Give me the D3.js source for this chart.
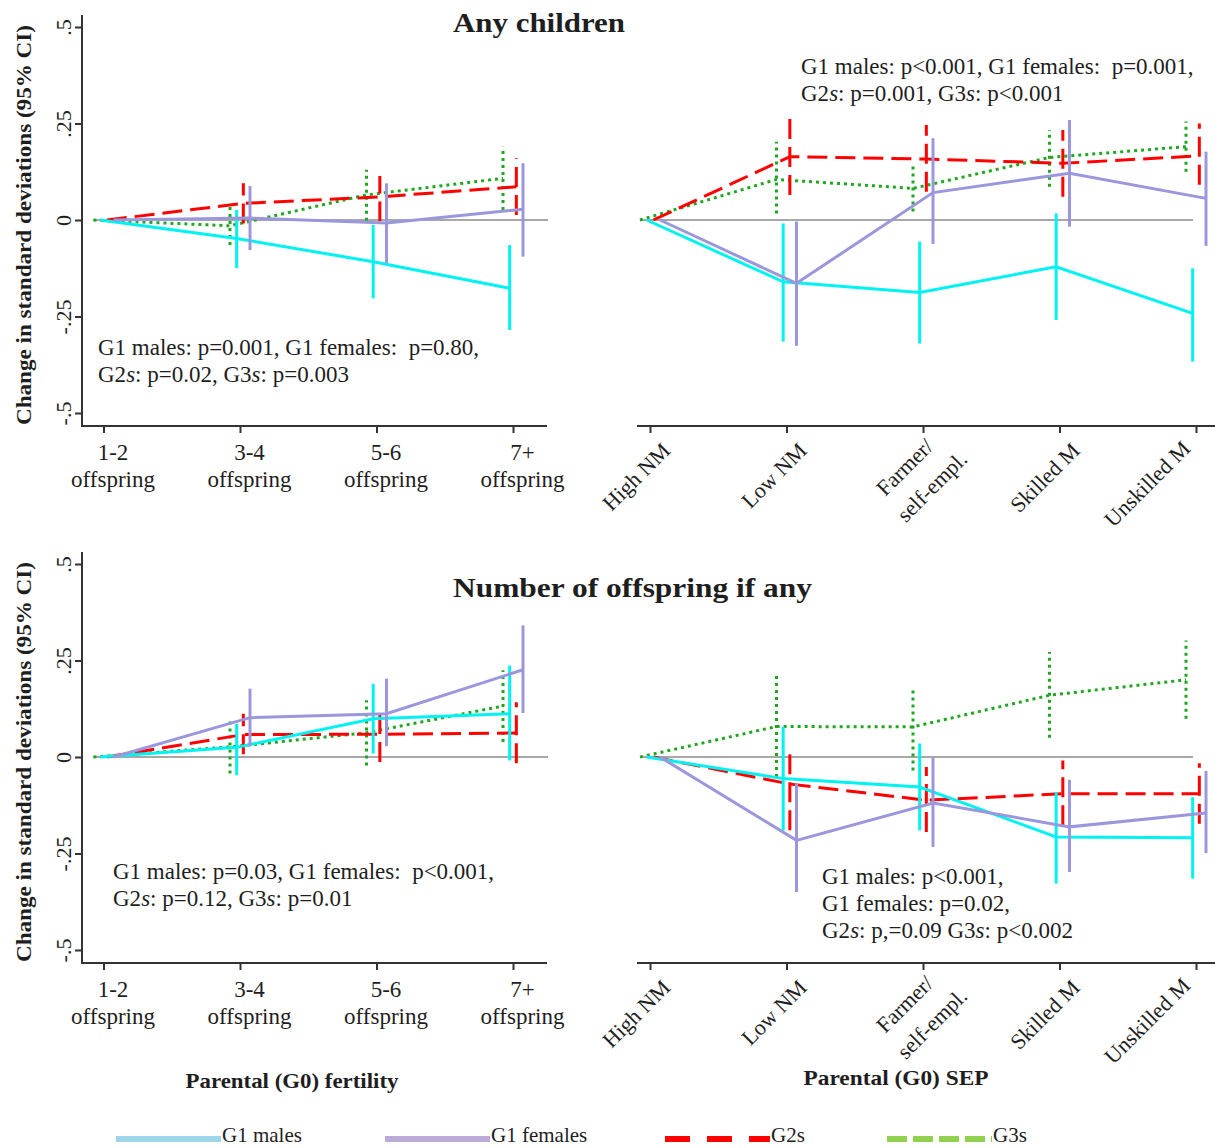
<!DOCTYPE html>
<html>
<head>
<meta charset="utf-8">
<script src="https://cdn.jsdelivr.net/npm/d3@7"></script>
<style>
  body { margin: 0; background: #fff; }
  svg { display: block; }
  text { font-family: "Liberation Serif", "Times New Roman", serif; fill: #1e1e1e; }
</style>
</head>
<body>
<svg id="chart" width="1215" height="1148"></svg>
<script>
// ---- data ----
const fertilityCats = ["1-2", "3-4", "5-6", "7+"];
const fertilityLabels = [["1-2", "offspring"], ["3-4", "offspring"], ["5-6", "offspring"], ["7+", "offspring"]];
const sepCats = ["High NM", "Low NM", "Farmer", "Skilled M", "Unskilled M"];
const sepLabels = [["High NM"], ["Low NM"], ["Farmer/", "self-empl."], ["Skilled M"], ["Unskilled M"]];

const seriesNames = ["G1 males", "G1 females", "G2s", "G3s"];
const yTickValues = [-0.5, -0.25, 0, 0.25, 0.5];
const yTickLabels = ["-.5", "-.25", "0", ".25", ".5"];

// Any children, by parental fertility
const anyFertEst = {
  "G1 males":   [0, -0.048, -0.108, -0.177],
  "G1 females": [0, 0.005, -0.008, 0.028],
  "G2s":        [0, 0.043, 0.060, 0.086],
  "G3s":        [0, -0.015, 0.065, 0.108]
};
const anyFertLo = {
  "G1 males":   [null, -0.125, -0.203, -0.285],
  "G1 females": [null, -0.078, -0.112, -0.095],
  "G2s":        [null, -0.009, -0.004, 0.013],
  "G3s":        [null, -0.065, -0.002, 0.026]
};
const anyFertHi = {
  "G1 males":   [null, 0.026, -0.013, -0.065],
  "G1 females": [null, 0.088, 0.095, 0.147],
  "G2s":        [null, 0.095, 0.114, 0.160],
  "G3s":        [null, 0.040, 0.130, 0.190]
};

// Any children, by parental SEP
const anySepEst = {
  "G1 males":   [0, -0.160, -0.188, -0.121, -0.242],
  "G1 females": [0, -0.164, 0.071, 0.121, 0.056],
  "G2s":        [0, 0.164, 0.158, 0.147, 0.166],
  "G3s":        [0, 0.105, 0.082, 0.162, 0.190]
};
const anySepLo = {
  "G1 males":   [null, -0.315, -0.320, -0.259, -0.367],
  "G1 females": [null, -0.326, -0.062, -0.017, -0.067],
  "G2s":        [null, 0.065, 0.073, 0.060, 0.091],
  "G3s":        [null, 0.017, 0.022, 0.086, 0.125]
};
const anySepHi = {
  "G1 males":   [null, -0.009, -0.056, 0.017, -0.125],
  "G1 females": [null, -0.004, 0.212, 0.259, 0.177],
  "G2s":        [null, 0.268, 0.246, 0.233, 0.250],
  "G3s":        [null, 0.203, 0.147, 0.233, 0.255]
};

// Number of offspring if any, by parental fertility
const numFertEst = {
  "G1 males":   [0, 0.025, 0.099, 0.112],
  "G1 females": [0, 0.102, 0.112, 0.226],
  "G2s":        [0, 0.058, 0.059, 0.062],
  "G3s":        [0, 0.026, 0.063, 0.132]
};
const numFertLo = {
  "G1 males":   [null, -0.047, 0.009, -0.009],
  "G1 females": [null, 0.028, 0.028, 0.114],
  "G2s":        [null, 0.007, -0.013, -0.016],
  "G3s":        [null, -0.043, -0.022, 0.039]
};
const numFertHi = {
  "G1 males":   [null, 0.086, 0.190, 0.237],
  "G1 females": [null, 0.177, 0.203, 0.341],
  "G2s":        [null, 0.112, 0.121, 0.142],
  "G3s":        [null, 0.095, 0.147, 0.225]
};

// Number of offspring if any, by parental SEP
const numSepEst = {
  "G1 males":   [0, -0.056, -0.078, -0.207, -0.209],
  "G1 females": [0, -0.216, -0.119, -0.181, -0.145],
  "G2s":        [0, -0.070, -0.112, -0.095, -0.095],
  "G3s":        [0, 0.079, 0.078, 0.160, 0.200]
};
const numSepLo = {
  "G1 males":   [null, -0.190, -0.190, -0.328, -0.315],
  "G1 females": [null, -0.350, -0.233, -0.298, -0.249],
  "G2s":        [null, -0.190, -0.194, -0.177, -0.173],
  "G3s":        [null, -0.052, -0.035, 0.050, 0.099]
};
const numSepHi = {
  "G1 males":   [null, 0.078, 0.035, -0.091, -0.104],
  "G1 females": [null, -0.069, 0.000, -0.059, -0.036],
  "G2s":        [null, 0.026, -0.026, -0.009, -0.016],
  "G3s":        [null, 0.216, 0.177, 0.272, 0.302]
};

const annotAnyFert = ["G1 males: p=0.001, G1 females:  p=0.80,", "G2s: p=0.02, G3s: p=0.003"];
const annotAnySep = ["G1 males: p<0.001, G1 females:  p=0.001,", "G2s: p=0.001, G3s: p<0.001"];
const annotNumFert = ["G1 males: p=0.03, G1 females:  p<0.001,", "G2s: p=0.12, G3s: p=0.01"];
const annotNumSep = ["G1 males: p<0.001,", "G1 females: p=0.02,", "G2s: p,=0.09 G3s: p<0.002"];

// ---- styles ----
const style = {
  "G1 males":   { color: "#00f2f2", dash: null,    legend: "#9dd6ea", legendDash: null },
  "G1 females": { color: "#9b97dc", dash: null,    legend: "#bba9d8", legendDash: null },
  "G2s":        { color: "#ff0000", dash: "20,8",  legend: "#ff0000", legendDash: "25,17" },
  "G3s":        { color: "#1fa81f", dash: "3,4",   legend: "#92d050", legendDash: "20,6" }
};
const drawOrder = ["G3s", "G2s", "G1 males", "G1 females"];
const dodge = d3.scalePoint().domain(["G3s", "G1 males", "G2s", "G1 females"]).range([-10, 10]);

const svg = d3.select("#chart");

function addAnnot(lines, x, y) {
  const t = svg.append("text").attr("x", x).attr("y", y)
    .style("font-size", "23px").style("white-space", "pre");
  lines.forEach((ln, i) => {
    // italic "s" in G2s / G3s
    const parts = ln.split(/(G[23])s/);
    let first = true;
    parts.forEach((p, j) => {
      if (p === "") return;
      const ts = t.append("tspan").text(p);
      if (first) { ts.attr("x", x).attr("dy", i === 0 ? 0 : 27); first = false; }
      if (j % 2 === 1) t.append("tspan").style("font-style", "italic").text("s");
    });
  });
}

function drawPanel(cfg) {
  const x = d3.scalePoint().domain(cfg.cats).range(cfg.xRange);
  const y = d3.scaleLinear().domain([-0.5, 0.5]).range([cfg.zeroY + 193, cfg.zeroY - 193]);
  const axisY = cfg.zeroY + 206;
  const g = svg.append("g");

  // zero reference line
  g.append("line")
    .attr("x1", cfg.zeroLine[0]).attr("x2", cfg.zeroLine[1])
    .attr("y1", y(0)).attr("y2", y(0))
    .attr("stroke", "#a8a8a8").attr("stroke-width", 2);

  // x axis
  g.append("line")
    .attr("x1", cfg.axisLine[0]).attr("x2", cfg.axisLine[1])
    .attr("y1", axisY).attr("y2", axisY)
    .attr("stroke", "#333").attr("stroke-width", 2);
  const xa = g.append("g").attr("transform", `translate(0,${axisY})`)
    .call(d3.axisBottom(x).tickSize(7).tickSizeOuter(0));
  xa.select(".domain").remove();
  xa.selectAll(".tick line").attr("stroke", "#333").attr("stroke-width", 2);
  xa.selectAll(".tick text").remove();
  xa.selectAll(".tick").each(function (d, i) {
    const lines = cfg.labels[i];
    const tk = d3.select(this);
    if (!cfg.rotated) {
      lines.forEach((ln, k) => {
        tk.append("text").attr("x", 9).attr("y", 34 + k * 27)
          .attr("text-anchor", "middle").style("font-size", "23px").text(ln);
      });
    } else {
      // keep the last label inside the picture, as in the original
      const dx = Math.min(21, 1191 - x(d));
      const dy = dx < 21 ? 24 : 26;
      const rg = tk.append("g").attr("transform", `translate(${dx},${dy}) rotate(-45)`);
      if (lines.length === 1) {
        rg.append("text").attr("text-anchor", "end").style("font-size", "22px").text(lines[0]);
      } else {
        rg.append("text").attr("x", -4).attr("y", -10).attr("text-anchor", "end").style("font-size", "22px").text(lines[0]);
        rg.append("text").attr("x", 11).attr("y", 23).attr("text-anchor", "end").style("font-size", "22px").text(lines[1]);
      }
    }
  });

  // y axis
  if (cfg.yAxis) {
    g.append("line").attr("x1", 82).attr("x2", 82)
      .attr("y1", cfg.zeroY - 205).attr("y2", axisY + 1)
      .attr("stroke", "#333").attr("stroke-width", 2);
    const ya = g.append("g").attr("transform", "translate(82,0)")
      .call(d3.axisLeft(y).tickValues(yTickValues).tickSize(7)
        .tickFormat((d, i) => yTickLabels[i]));
    ya.select(".domain").remove();
    ya.selectAll(".tick line").attr("stroke", "#333").attr("stroke-width", 2);
    ya.selectAll(".tick text")
      .attr("x", null).attr("dy", null)
      .attr("transform", "translate(-11,0) rotate(-90)")
      .attr("text-anchor", "middle")
      .style("font-size", "22px").style("font-family", "'Liberation Serif', serif").attr("fill", "#1e1e1e");
    svg.append("text")
      .attr("transform", `translate(31,${cfg.zeroY + 5}) rotate(-90)`)
      .attr("text-anchor", "middle")
      .attr("textLength", 400).attr("lengthAdjust", "spacingAndGlyphs")
      .style("font-size", "22px").style("font-weight", "bold")
      .text("Change in standard deviations (95% CI)");
  }

  // series lines and CIs
  drawOrder.forEach(name => {
    const st = style[name];
    const est = cfg.est[name], lo = cfg.lo[name], hi = cfg.hi[name];
    const px = i => x(cfg.cats[i]) + dodge(name);
    const line = d3.line().x((d, i) => px(i)).y(d => y(d));
    const sg = g.append("g");
    sg.selectAll("line.ci").data(est.map((d, i) => i).filter(i => lo[i] !== null))
      .enter().append("line").attr("class", "ci")
      .attr("x1", i => px(i)).attr("x2", i => px(i))
      .attr("y1", i => y(lo[i])).attr("y2", i => y(hi[i]))
      .attr("stroke", st.color).attr("stroke-width", 3)
      .attr("stroke-dasharray", st.dash);
    sg.append("path").datum(est)
      .attr("d", line)
      .attr("fill", "none").attr("stroke", st.color).attr("stroke-width", 3)
      .attr("stroke-dasharray", st.dash);
  });
}

const fertRange = [103.5, 513];
const sepRange = [650, 1196];

drawPanel({ cats: fertilityCats, labels: fertilityLabels, xRange: fertRange, zeroY: 220, yAxis: true, rotated: false,
  zeroLine: [93, 548], axisLine: [81, 547], est: anyFertEst, lo: anyFertLo, hi: anyFertHi });
drawPanel({ cats: sepCats, labels: sepLabels, xRange: sepRange, zeroY: 220, yAxis: false, rotated: true,
  zeroLine: [640, 1193], axisLine: [637, 1215], est: anySepEst, lo: anySepLo, hi: anySepHi });
drawPanel({ cats: fertilityCats, labels: fertilityLabels, xRange: fertRange, zeroY: 757, yAxis: true, rotated: false,
  zeroLine: [93, 548], axisLine: [81, 547], est: numFertEst, lo: numFertLo, hi: numFertHi });
drawPanel({ cats: sepCats, labels: sepLabels, xRange: sepRange, zeroY: 757, yAxis: false, rotated: true,
  zeroLine: [640, 1193], axisLine: [637, 1215], est: numSepEst, lo: numSepLo, hi: numSepHi });

addAnnot(annotAnyFert, 98, 355);
addAnnot(annotAnySep, 801, 74);
addAnnot(annotNumFert, 113, 879);
addAnnot(annotNumSep, 822, 884);

// titles
svg.append("text").attr("x", 453).attr("y", 32)
  .attr("textLength", 172).attr("lengthAdjust", "spacingAndGlyphs")
  .style("font-size", "28px").style("font-weight", "bold").text("Any children");
svg.append("text").attr("x", 453).attr("y", 597)
  .attr("textLength", 359).attr("lengthAdjust", "spacingAndGlyphs")
  .style("font-size", "28px").style("font-weight", "bold").text("Number of offspring if any");
svg.append("text").attr("x", 292).attr("y", 1088).attr("text-anchor", "middle")
  .attr("textLength", 213).attr("lengthAdjust", "spacingAndGlyphs")
  .style("font-size", "22px").style("font-weight", "bold").text("Parental (G0) fertility");
svg.append("text").attr("x", 896).attr("y", 1085).attr("text-anchor", "middle")
  .attr("textLength", 185).attr("lengthAdjust", "spacingAndGlyphs")
  .style("font-size", "22px").style("font-weight", "bold").text("Parental (G0) SEP");

// legend
const legendX = [116, 385, 665, 887];
const lg = svg.append("g").selectAll("g").data(seriesNames).enter().append("g")
  .attr("transform", (d, i) => `translate(${legendX[i]},1139)`);
lg.append("line").attr("x1", 0).attr("x2", 105).attr("y1", 0).attr("y2", 0)
  .attr("stroke", d => style[d].legend).attr("stroke-width", 6)
  .attr("stroke-dasharray", d => style[d].legendDash);
lg.append("text").attr("x", 106).attr("y", 3).style("font-size", "21px").text(d => d);
</script>
</body>
</html>
